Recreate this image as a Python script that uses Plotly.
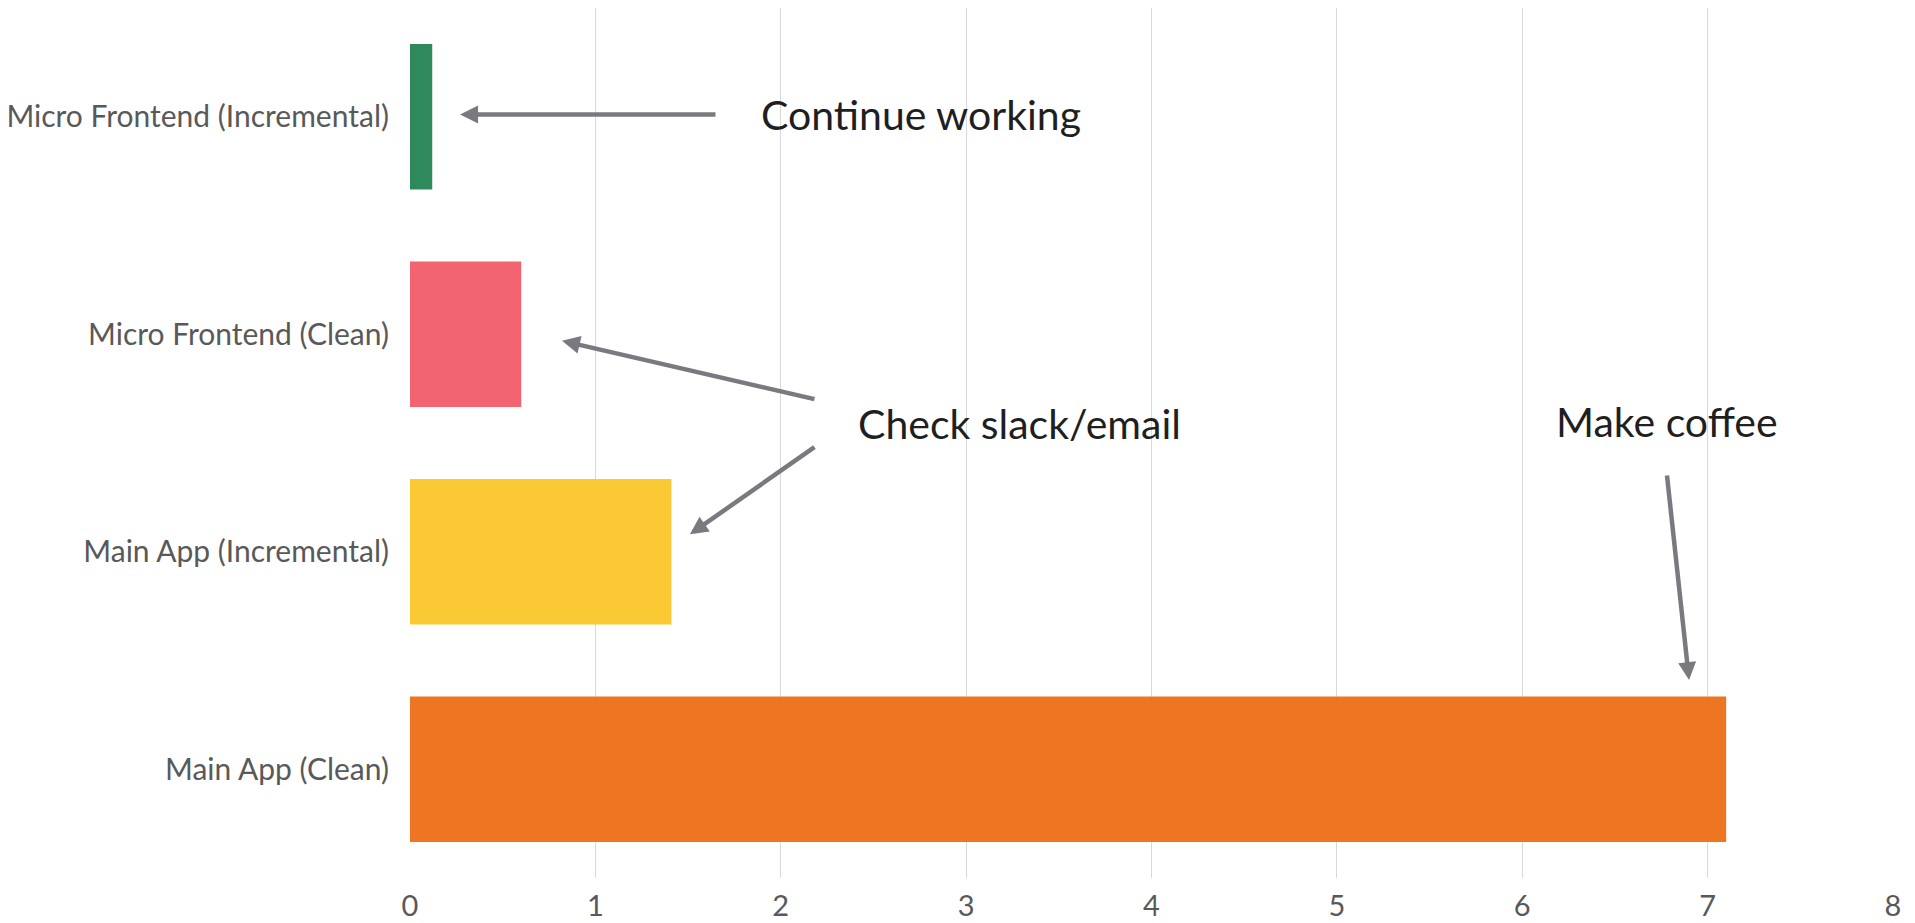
import plotly.graph_objects as go

# build times (minutes), listed bottom to top
categories = [
    "Main App (Clean)",
    "Main App (Incremental)",
    "Micro Frontend (Clean)",
    "Micro Frontend (Incremental)",
]
build_minutes = [7.1, 1.41, 0.6, 0.12]
bar_colors = ["#ee7623", "#fac934", "#f26470", "#2e8a5a"]

x_ticks = [0, 1, 2, 3, 4, 5, 6, 7, 8]

ARROW_COLOR = "#7a7980"
FONT = "Lato"

fig = go.Figure()
fig.add_trace(
    go.Bar(
        x=build_minutes,
        y=categories,
        orientation="h",
        marker=dict(color=bar_colors, line=dict(width=0)),
        hoverinfo="x+y",
    )
)


def _note(text, x, y):
    return dict(
        x=x, y=y, xref="x", yref="y", text=text, showarrow=False,
        font=dict(family=FONT, size=41, color="#1f1f1f"),
    )


def _arrow(x, y, ax, ay):
    return dict(
        x=x, y=y, ax=ax, ay=ay, xref="x", yref="y", axref="x", ayref="y",
        text="", showarrow=True, arrowhead=2, arrowsize=0.8, arrowwidth=4.5,
        arrowcolor=ARROW_COLOR, standoff=0,
    )


annotations = [
    _note("Continue working", 2.756, 3.01),
    _note("Check slack/email", 3.29, 1.59),
    _note("Make coffee", 6.78, 1.60),
    _arrow(0.27, 3.01, 1.656, 3.01),
    _arrow(0.82, 1.97, 2.19, 1.70),
    _arrow(1.51, 1.08, 2.19, 1.486),
    _arrow(6.90, 0.41, 6.78, 1.357),
]

fig.update_layout(
    width=1915,
    height=923,
    margin=dict(l=410, r=22, t=8, b=45),
    plot_bgcolor="white",
    paper_bgcolor="white",
    bargap=0.33,
    showlegend=False,
    annotations=annotations,
    font=dict(family=FONT, size=30, color="#595959"),
)
fig.update_xaxes(
    range=[0, 8],
    tickvals=x_ticks,
    showgrid=True,
    gridcolor="#d9d9d9",
    gridwidth=1,
    zeroline=False,
    showline=False,
    automargin=False,
    ticks="outside",
    ticklen=2,
    tickcolor="rgba(0,0,0,0)",
    tickfont=dict(family=FONT, size=29, color="#595959"),
)
fig.update_yaxes(
    categoryorder="array",
    categoryarray=categories,
    range=[-0.5, 3.5],
    showgrid=False,
    zeroline=False,
    showline=False,
    automargin=False,
    ticks="outside",
    ticklen=14,
    tickcolor="rgba(0,0,0,0)",
    tickfont=dict(family=FONT, size=30, color="#595959"),
)

# drop the default body margin so the figure fills the window exactly
fig.write_html(
    "out.html",
    config={"displayModeBar": False},
    post_script="document.body.style.margin='0';document.body.style.overflow='hidden';",
)
